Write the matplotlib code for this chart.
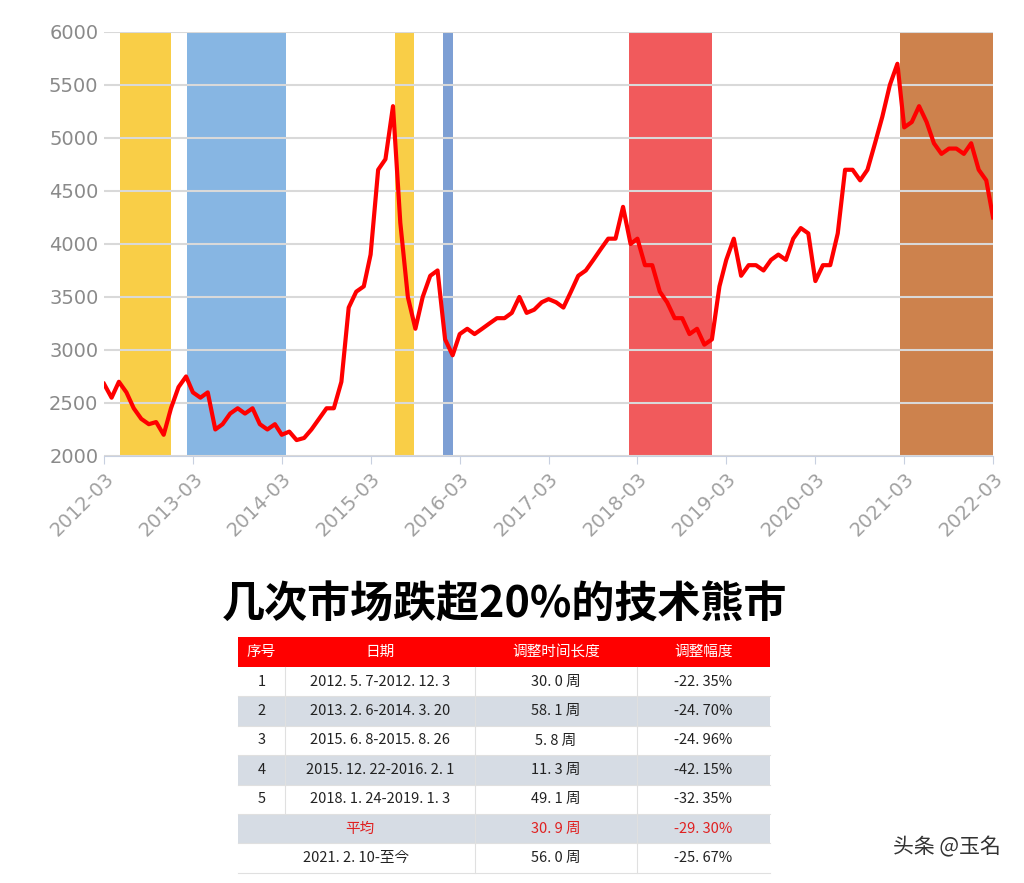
import matplotlib
matplotlib.use("Agg")
import matplotlib.pyplot as plt
from matplotlib import font_manager
import datetime as dt

names = {f.name for f in font_manager.fontManager.ttflist}
cjk = [n for n in ["Noto Sans CJK SC", "Noto Sans CJK JP", "Noto Sans CJK TC", "Noto Sans CJK KR"] if n in names]
plt.rcParams['font.family'] = cjk + ['DejaVu Sans']
plt.rcParams['font.sans-serif'] = cjk + ['DejaVu Sans']

start_year, start_month = 2012, 3
values = [2680, 2550, 2700, 2600, 2450, 2350, 2300, 2320, 2200, 2450,
          2650, 2750, 2600, 2550, 2600, 2250, 2300, 2400, 2450, 2400, 2450, 2300,
          2250, 2300, 2200, 2230, 2150, 2170, 2250, 2350, 2450, 2450, 2700, 3400,
          3550, 3600, 3900, 4700, 4800, 5300, 4200, 3500, 3200, 3500, 3700, 3750,
          3100, 2950, 3150, 3200, 3150, 3200, 3250, 3300, 3300, 3350, 3500, 3350,
          3380, 3450, 3480, 3450, 3400, 3550, 3700, 3750, 3850, 3950, 4050, 4050,
          4350, 4000, 4050, 3800, 3800, 3550, 3450, 3300, 3300, 3150, 3200, 3050,
          3100, 3600, 3850, 4050, 3700, 3800, 3800, 3750, 3850, 3900, 3850, 4050,
          4150, 4100, 3650, 3800, 3800, 4100, 4700, 4700, 4600, 4700, 4950, 5200,
          5500, 5700, 5100, 5150, 5300, 5150, 4950, 4850, 4900, 4900, 4850, 4950,
          4700, 4600, 4250]

band_starts = ["2012-05-07", "2013-02-06", "2015-06-08", "2015-12-22", "2018-01-24", "2021-02-10"]
band_ends = ["2012-12-03", "2014-03-20", "2015-08-26", "2016-02-01", "2019-01-03", "2022-03-01"]
band_colors = ["#f9c933", "#7aaee0", "#f9c933", "#6f95d0", "#f0484a", "#c8753a"]

tick_labels = [f"{y}-03" for y in range(2012, 2023)]

headers = ["序号", "日期", "调整时间长度", "调整幅度"]
rows = [["1", "2012. 5. 7-2012. 12. 3", "30. 0 周", "-22. 35%"],
        ["2", "2013. 2. 6-2014. 3. 20", "58. 1 周", "-24. 70%"],
        ["3", "2015. 6. 8-2015. 8. 26", "5. 8 周", "-24. 96%"],
        ["4", "2015. 12. 22-2016. 2. 1", "11. 3 周", "-42. 15%"],
        ["5", "2018. 1. 24-2019. 1. 3", "49. 1 周", "-32. 35%"],
        ["", "平均", "30. 9 周", "-29. 30%"],
        ["", "2021. 2. 10-至今", "56. 0 周", "-25. 67%"]]

dates = []
for i in range(len(values)):
    m = start_month - 1 + i
    dates.append(dt.date(start_year + m // 12, m % 12 + 1, 1))

fig = plt.figure(figsize=(10.24, 8.83), dpi=100)
ax = fig.add_axes([0.1016, 0.4836, 0.8682, 0.4802])
for s, e, c in zip(band_starts, band_ends, band_colors):
    ax.axvspan(dt.date.fromisoformat(s), dt.date.fromisoformat(e), color=c, alpha=0.9, lw=0, zorder=1)
ax.plot(dates, values, color="#ff0000", lw=3, zorder=3)
ax.set_ylim(2000, 6000)
ax.set_yticks(range(2000, 6001, 500))
ax.set_xlim(dt.date(2012, 3, 1), dt.date(2022, 3, 1))
ax.set_xticks([dt.date(y, 3, 1) for y in range(2012, 2023)])
ax.set_xticklabels(tick_labels, rotation=45, ha="right", rotation_mode="anchor", family="DejaVu Sans")
for lb in ax.get_yticklabels():
    lb.set_family("DejaVu Sans")
ax.grid(axis="y", color="#d9d9d9", lw=1.5, zorder=0)
for sp in ["top", "right", "left"]:
    ax.spines[sp].set_visible(False)
ax.spines["bottom"].set_color("#c8d0e0")
ax.tick_params(axis="y", length=0, labelsize=14, colors="#8a8a8a", pad=4)
ax.tick_params(axis="x", labelsize=14, colors="#a0a0a0", color="#c8d0e0", length=6)

fig.text(0.493, 0.315, "几次市场跌超20%的技术熊市", ha="center", va="center",
         fontsize=31, fontweight="bold")

tab = fig.add_axes([0, 0, 1, 1], facecolor="none")
tab.set_xlim(0, 1024); tab.set_ylim(883, 0); tab.axis("off")
col_px = [238, 285, 475, 637, 770]
y = 637
hh = 30
tab.add_patch(plt.Rectangle((238, y), 532, hh, color="#ff0000", lw=0))
for i, h in enumerate(headers):
    tab.text((col_px[i] + col_px[i + 1]) / 2, y + hh / 2, h, color="white", ha="center", va="center", fontsize=10.5)
y += hh
rh = 29.4
for r, row in enumerate(rows):
    bg = "#d6dce4" if r % 2 == 1 else "white"
    tab.add_patch(plt.Rectangle((238, y), 532, rh, color=bg, lw=0))
    tab.plot([238, 770], [y + rh, y + rh], color="#e0e0e0", lw=0.8)
    col = "#e02020" if r == 5 else "#222222"
    if r >= 5:
        tab.text((285 + 475) / 2 - 20 if r == 5 else (238 + 475) / 2, y + rh / 2, row[1], color=col, ha="center", va="center", fontsize=10.5)
    else:
        tab.text((238 + 285) / 2, y + rh / 2, row[0], color=col, ha="center", va="center", fontsize=10.5)
        tab.text((285 + 475) / 2, y + rh / 2, row[1], color=col, ha="center", va="center", fontsize=10.5)
        tab.plot([285, 285], [y, y + rh], color="#e0e0e0", lw=0.8)
    tab.text((475 + 637) / 2, y + rh / 2, row[2], color=col, ha="center", va="center", fontsize=10.5)
    tab.text((637 + 770) / 2, y + rh / 2, row[3], color=col, ha="center", va="center", fontsize=10.5)
    for xx in [475, 637]:
        tab.plot([xx, xx], [y, y + rh], color="#e0e0e0", lw=0.8)
    y += rh

fig.text(0.925, 0.04, "头条 @玉名", ha="center", va="center", fontsize=15, color="#333333")

fig.savefig("out.png", dpi=100)
